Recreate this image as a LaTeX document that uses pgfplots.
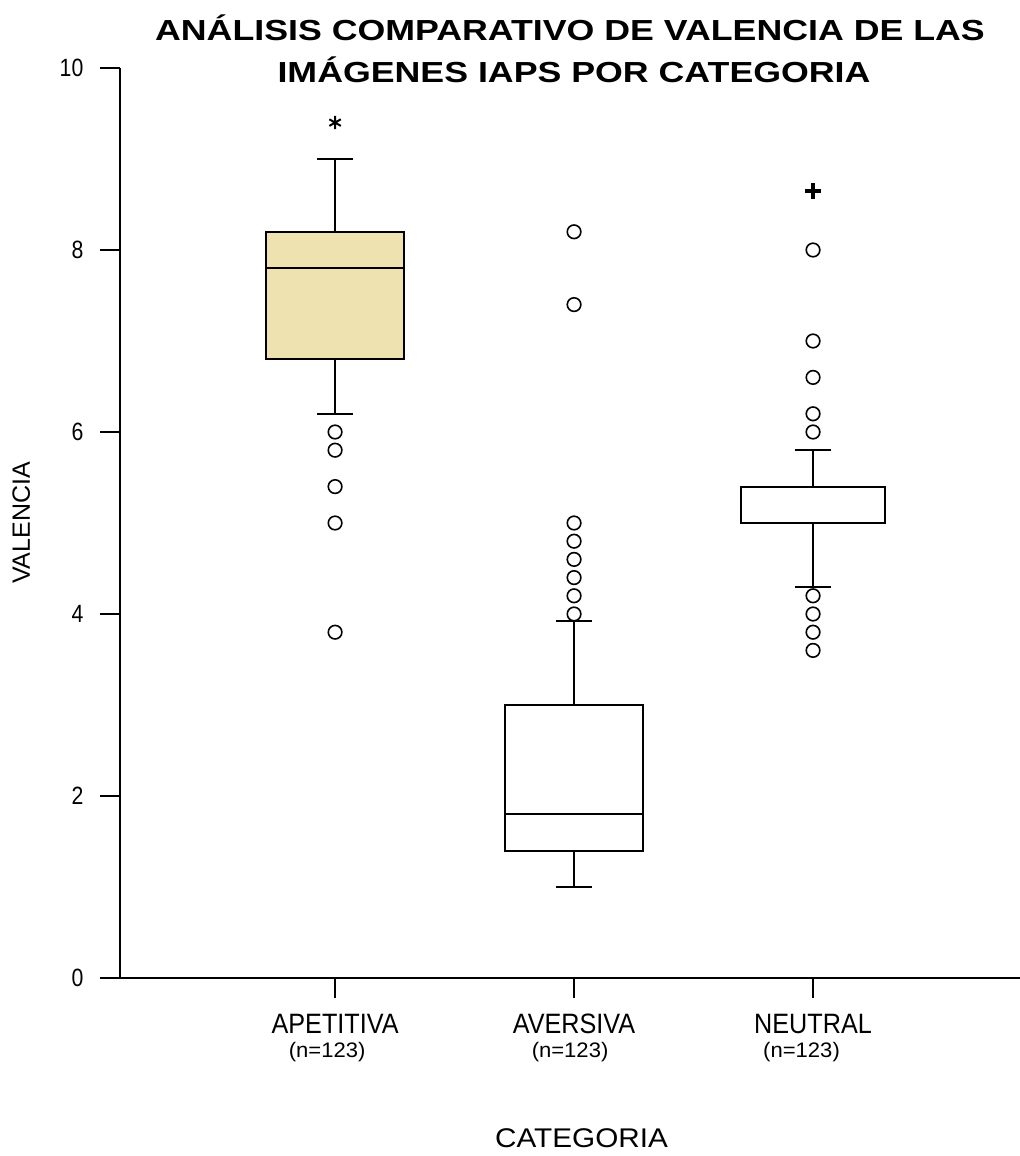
\documentclass[border=0pt]{standalone}
\usepackage{fontspec}
\setmainfont{Liberation Sans}
\newfontfamily\titlefont[FakeStretch=1.232]{Liberation Sans}
\newfontfamily\xlabfont[FakeStretch=0.9]{Liberation Sans}
\newfontfamily\ylabfont[FakeStretch=0.85]{Liberation Sans}
\newfontfamily\nfont[FakeStretch=1.05]{Liberation Sans}
\newfontfamily\catfont[FakeStretch=1.1]{Liberation Sans}
\usepackage{pgfplots}
\pgfplotsset{compat=1.18}
\usepgfplotslibrary{statistics}
\usetikzlibrary{calc}
\definecolor{boxfill}{RGB}{238,226,176}

\begin{document}
\begin{tikzpicture}
\begin{axis}[
  name=ax, scale only axis, width=450pt, height=455pt,
  xmin=0.1, xmax=3.866, ymin=0, ymax=10,
  axis lines=left, axis line style={-, line width=1pt, black},
  xtick={1,2,3}, xticklabels={APETITIVA,AVERSIVA,NEUTRAL},
  ytick={0,2,4,6,8,10},
  tick align=outside, major tick length=10pt,
  tick style={line width=1pt, black},
  minor tick num=0,
  /pgf/number format/assume math mode=true,
  yticklabel style={font=\ylabfont\fontsize{12.5}{14}\selectfont, xshift=-4.8pt},
  xticklabel style={font=\xlabfont\fontsize{14}{16}\selectfont, yshift=-4.5pt},
  boxplot/draw direction=y,
  clip=false,
]
\addplot[boxplot prepared={draw position=1, lower whisker=6.2, lower quartile=6.8,
    median=7.8, upper quartile=8.2, upper whisker=9.0, box extend=0.575, whisker extend=0.15},
  draw=black, line width=1pt, fill=boxfill,
  mark=o, mark size=3.4pt, mark options={line width=0.8pt, fill=white, draw=black}]
  table[row sep=\\, y index=0] {data\\ 6.0\\ 5.8\\ 5.4\\ 5.0\\ 3.8\\};
\addplot[boxplot prepared={draw position=2, lower whisker=1.0, lower quartile=1.4,
    median=1.8, upper quartile=3.0, upper whisker=3.92, box extend=0.575, whisker extend=0.15},
  draw=black, line width=1pt, fill=white,
  mark=o, mark size=3.4pt, mark options={line width=0.8pt, fill=white, draw=black}]
  table[row sep=\\, y index=0] {data\\ 4.0\\ 4.2\\ 4.4\\ 4.6\\ 4.8\\ 5.0\\ 7.4\\ 8.2\\};
\addplot[boxplot prepared={draw position=3, lower whisker=4.3, lower quartile=5.0,
    median=5.0, upper quartile=5.4, upper whisker=5.8, box extend=0.6, whisker extend=0.15},
  draw=black, line width=1pt, fill=white,
  mark=o, mark size=3.4pt, mark options={line width=0.8pt, fill=white, draw=black}]
  table[row sep=\\, y index=0] {data\\ 6.0\\ 6.2\\ 6.6\\ 7.0\\ 8.0\\ 4.2\\ 4.0\\ 3.8\\ 3.6\\};
\addplot[only marks, mark=asterisk, mark size=3.3pt, line width=1pt, black] coordinates {(1,9.4)};
\addplot[only marks, mark=+, mark size=4pt, line width=1.8pt, black] coordinates {(3,8.65)};

\node[anchor=base, font=\titlefont\bfseries\fontsize{14.5}{17}\selectfont]
  at ($(rel axis cs:0.5,1)+(0pt,13.5pt)$) {ANÁLISIS COMPARATIVO DE VALENCIA DE LAS};
\node[anchor=base, font=\titlefont\bfseries\fontsize{14.5}{17}\selectfont]
  at ($(rel axis cs:0.5,1)+(2pt,-7.5pt)$) {IMÁGENES IAPS POR CATEGORIA};
\node[anchor=base, rotate=90, font=\fontsize{12.5}{14}\selectfont]
  at ($(rel axis cs:0,0.5)+(-45pt,0pt)$) {VALENCIA};
\node[anchor=base, font=\catfont\fontsize{13.5}{16}\selectfont]
  at ($(rel axis cs:0.5,0)+(5.75pt,-84.5pt)$) {CATEGORIA};
\node[anchor=base, font=\nfont\fontsize{10.5}{12}\selectfont]
  at ($(axis cs:1,0)+(-4pt,-39.5pt)$) {(n=123)};
\node[anchor=base, font=\nfont\fontsize{10.5}{12}\selectfont]
  at ($(axis cs:2,0)+(-2pt,-39.5pt)$) {(n=123)};
\node[anchor=base, font=\nfont\fontsize{10.5}{12}\selectfont]
  at ($(axis cs:3,0)+(-5.75pt,-39.5pt)$) {(n=123)};
\end{axis}
\pgfresetboundingbox
\path[use as bounding box] ($(ax.south west)+(-60pt,-89pt)$) rectangle ($(ax.north east)+(0pt,34pt)$);
\end{tikzpicture}
\end{document}
